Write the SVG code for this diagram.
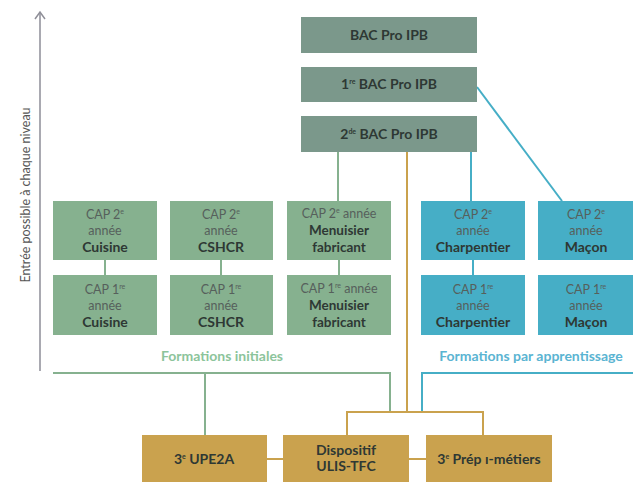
<svg xmlns="http://www.w3.org/2000/svg" width="633" height="482" viewBox="0 0 633 482">
<style>
text{font-family:Lato,"Open Sans","Liberation Sans",sans-serif;text-anchor:middle;fill:#2e3834}
.bac{fill:#7b988b}
.grn{fill:#86b18f}
.blu{fill:#46aec6}
.org{fill:#caa24e}
.t1{font-size:14px;font-weight:700}
.r{font-size:12.5px;fill:#56605c}
.b{font-size:14px;font-weight:700}
.m{font-size:13.5px;font-weight:700}
.sup{font-size:7px}
.lg{stroke:#86b18f;stroke-width:2;fill:none}
.lb{stroke:#46aec6;stroke-width:2;fill:none}
.lo{stroke:#caa24e;stroke-width:2;fill:none}
</style>
<g id="connectors">
<line x1="40" y1="13" x2="40" y2="371" stroke="#a9a9b1" stroke-width="2"/>
<polyline points="35,19 40,12 45,19" stroke="#8f8f98" stroke-width="1.5" fill="none"/>
<line class="lg" x1="338" y1="152" x2="338" y2="201"/>
<line class="lb" x1="471" y1="152" x2="471" y2="201"/>
<line class="lb" x1="477" y1="87" x2="562" y2="201"/>
<line class="lo" x1="407" y1="152" x2="407" y2="412"/>
<line class="lg" x1="105" y1="260" x2="105" y2="275"/>
<line class="lg" x1="221" y1="260" x2="221" y2="275"/>
<line class="lg" x1="339" y1="260" x2="339" y2="275"/>
<line class="lb" x1="473" y1="260" x2="473" y2="275"/>
<polyline class="lg" points="53,373 390,373 390,412"/>
<line class="lg" x1="205" y1="373" x2="205" y2="435"/>
<polyline class="lb" points="633,373 422,373 422,412"/>
<polyline class="lo" points="347,435 347,412 483,412 483,435"/>
<line class="lo" x1="267" y1="459" x2="283" y2="459"/>
<line class="lo" x1="409" y1="459" x2="426" y2="459"/>
</g>
<text x="30" y="195" transform="rotate(-90 30 195)" style="font-size:12.5px;fill:#555">Entrée possible à chaque niveau</text>
<g id="bac"><rect class="bac" x="301" y="17" width="176" height="36"/><text class="t1" x="389" y="40">BAC Pro IPB</text></g>
<g id="bac1"><rect class="bac" x="301" y="67" width="176" height="35"/><text class="t1" x="389" y="89">1<tspan class="sup" dy="-5">re</tspan><tspan dy="5"> BAC Pro IPB</tspan></text></g>
<g id="bac2"><rect class="bac" x="301" y="116" width="176" height="36"/><text class="t1" x="389" y="139">2<tspan class="sup" dy="-5">de</tspan><tspan dy="5"> BAC Pro IPB</tspan></text></g>

<g id="cuisine2"><rect class="grn" x="53" y="201" width="104" height="59"/><text class="r" x="105" y="219">CAP 2<tspan class="sup" dy="-5">e</tspan></text><text class="r" x="105" y="235">année</text><text class="b" x="105" y="252">Cuisine</text></g>
<g id="cuisine1"><rect class="grn" x="53" y="275" width="104" height="60"/><text class="r" x="105" y="294">CAP 1<tspan class="sup" dy="-5">re</tspan></text><text class="r" x="105" y="310">année</text><text class="b" x="105" y="327">Cuisine</text></g>
<g id="cshcr2"><rect class="grn" x="170" y="201" width="103" height="59"/><text class="r" x="221" y="219">CAP 2<tspan class="sup" dy="-5">e</tspan></text><text class="r" x="221" y="235">année</text><text class="b" x="221" y="252">CSHCR</text></g>
<g id="cshcr1"><rect class="grn" x="170" y="275" width="103" height="60"/><text class="r" x="221" y="294">CAP 1<tspan class="sup" dy="-5">re</tspan></text><text class="r" x="221" y="310">année</text><text class="b" x="221" y="327">CSHCR</text></g>
<g id="menuisier2"><rect class="grn" x="287" y="201" width="104" height="59"/><text class="r" x="339" y="218">CAP 2<tspan class="sup" dy="-5">e</tspan><tspan dy="5"> année</tspan></text><text class="m" x="339" y="235">Menuisier</text><text class="m" x="339" y="252">fabricant</text></g>
<g id="menuisier1"><rect class="grn" x="287" y="275" width="104" height="60"/><text class="r" x="339" y="293">CAP 1<tspan class="sup" dy="-5">re</tspan><tspan dy="5"> année</tspan></text><text class="m" x="339" y="310">Menuisier</text><text class="m" x="339" y="327">fabricant</text></g>
<g id="charpentier2"><rect class="blu" x="421" y="201" width="104" height="59"/><text class="r" x="473" y="219">CAP 2<tspan class="sup" dy="-5">e</tspan></text><text class="r" x="473" y="235">année</text><text class="b" x="473" y="252">Charpentier</text></g>
<g id="charpentier1"><rect class="blu" x="421" y="275" width="104" height="60"/><text class="r" x="473" y="294">CAP 1<tspan class="sup" dy="-5">re</tspan></text><text class="r" x="473" y="310">année</text><text class="b" x="473" y="327">Charpentier</text></g>
<g id="macon2"><rect class="blu" x="538" y="201" width="95" height="59"/><text class="r" x="586" y="219">CAP 2<tspan class="sup" dy="-5">e</tspan></text><text class="r" x="586" y="235">année</text><text class="b" x="586" y="252">Maçon</text></g>
<g id="macon1"><rect class="blu" x="538" y="275" width="95" height="60"/><text class="r" x="586" y="294">CAP 1<tspan class="sup" dy="-5">re</tspan></text><text class="r" x="586" y="310">année</text><text class="b" x="586" y="327">Maçon</text></g>

<text x="222" y="361" style="font-size:14px;font-weight:700;fill:#8cc49b">Formations initiales</text>
<text x="531" y="361" style="font-size:14px;font-weight:700;fill:#5ab4d2">Formations par apprentissage</text>

<g id="upe2a"><rect class="org" x="142" y="435" width="125" height="47"/><text class="t1" x="204" y="464">3<tspan class="sup" dy="-5">e</tspan><tspan dy="5"> UPE2A</tspan></text></g>
<g id="ulis"><rect class="org" x="283" y="435" width="126" height="47"/><text class="t1" x="346" y="455">Dispositif</text><text class="t1" x="346" y="471">ULIS-TFC</text></g>
<g id="prepa"><rect class="org" x="426" y="435" width="126" height="47"/><text class="t1" x="489" y="464">3<tspan class="sup" dy="-5">e</tspan><tspan dy="5"> Prép ı-métiers</tspan></text></g>
</svg>
